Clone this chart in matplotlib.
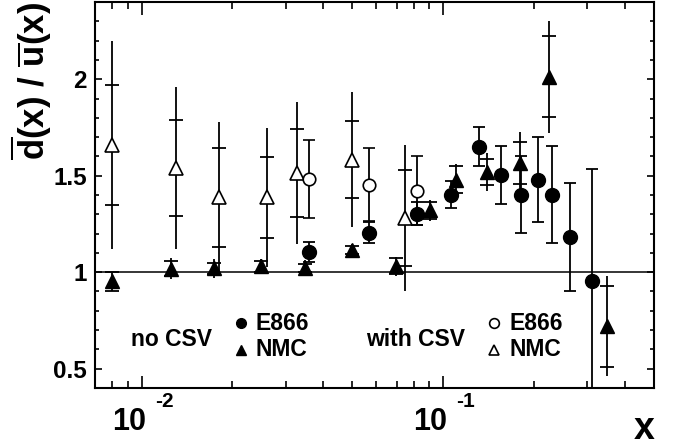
import numpy as np
import matplotlib
matplotlib.use("Agg")
import matplotlib.pyplot as plt
import matplotlib.transforms as mtransforms
from matplotlib.ticker import LogLocator, NullFormatter, MultipleLocator

plt.rcParams['font.family'] = ['Liberation Sans', 'DejaVu Sans']
plt.rcParams['font.weight'] = 'bold'
plt.rcParams['axes.labelweight'] = 'bold'
plt.rcParams['mathtext.fontset'] = 'custom'
plt.rcParams['mathtext.rm'] = 'Liberation Sans:bold'
plt.rcParams['mathtext.bf'] = 'Liberation Sans:bold'
plt.rcParams['mathtext.it'] = 'Liberation Sans:bold'

# === DATI ===
# E866, no CSV (cerchi pieni)
e866_x = [0.0359, 0.0568, 0.0820, 0.1058, 0.1312, 0.156, 0.1807, 0.2062, 0.230, 0.2638, 0.311]
e866_y = [1.105, 1.204, 1.302, 1.402, 1.651, 1.502, 1.402, 1.479, 1.402, 1.183, 0.953]
e866_err = [0.05, 0.055, 0.06, 0.07, 0.10, 0.15, 0.20, 0.22, 0.25, 0.28, 0.58]

# E866, with CSV (cerchi vuoti)
e866c_x = [0.0359, 0.0568, 0.0820]
e866c_y = [1.483, 1.453, 1.422]
e866c_err = [0.20, 0.19, 0.18]

# NMC, no CSV (triangoli pieni): errore statistico e totale
nmc_x = [0.0080, 0.01248, 0.01743, 0.02494, 0.03486, 0.0498, 0.0698,
         0.0904, 0.1101, 0.1402, 0.1794, 0.2242, 0.350]
nmc_y = [0.953, 1.018, 1.020, 1.030, 1.023, 1.114, 1.031,
         1.320, 1.479, 1.519, 1.566, 2.013, 0.720]
nmc_stat = [0.05, 0.04, 0.03, 0.03, 0.02, 0.02, 0.04, 0.045, 0.07, 0.065, 0.11, 0.21, 0.21]
nmc_tot = [0.05, 0.055, 0.05, 0.04, 0.04, 0.03, 0.05, 0.055, 0.08, 0.10, 0.16, 0.29, 0.26]

# NMC, with CSV (triangoli vuoti)
nmcc_x = [0.0080, 0.0130, 0.01811, 0.0261, 0.0327, 0.0498, 0.07468]
nmcc_y = [1.66, 1.54, 1.388, 1.388, 1.514, 1.583, 1.281]
nmcc_stat = [0.31, 0.25, 0.256, 0.21, 0.23, 0.20, 0.25]
nmcc_tot = [0.54, 0.42, 0.39, 0.36, 0.37, 0.35, 0.38]

x_ticks = [0.01, 0.1]
x_tick_exp = ['-2', '-1']
y_ticks = [0.5, 1, 1.5, 2]
y_tick_labels = ['0.5', '1', '1.5', '2']

# === FIGURA ===
fig = plt.figure(figsize=(6.77, 4.47), dpi=100)
ax = fig.add_axes([0.1403, 0.132, 0.8257, 0.8635])

lw = 1.3
ax.axhline(1.0, color='k', lw=1.1, zorder=1)

# NMC with CSV
ax.errorbar(nmcc_x, nmcc_y, yerr=nmcc_tot, fmt='none', ecolor='k', elinewidth=lw, capsize=0, zorder=2)
ax.plot(nmcc_x, np.array(nmcc_y) + np.array(nmcc_stat), '_', color='k', ms=10, mew=lw, zorder=2)
ax.plot(nmcc_x, np.array(nmcc_y) - np.array(nmcc_stat), '_', color='k', ms=10, mew=lw, zorder=2)
ax.plot(nmcc_x, nmcc_y, '^', ms=9.5, mfc='white', mec='k', mew=1.2, ls='none', zorder=3)

# NMC no CSV
ax.errorbar(nmc_x, nmc_y, yerr=nmc_tot, fmt='none', ecolor='k', elinewidth=lw, capsize=0, zorder=2)
ax.plot(nmc_x, np.array(nmc_y) + np.array(nmc_stat), '_', color='k', ms=10, mew=lw, zorder=2)
ax.plot(nmc_x, np.array(nmc_y) - np.array(nmc_stat), '_', color='k', ms=10, mew=lw, zorder=2)
ax.plot(nmc_x, nmc_y, '^', ms=9.5, color='k', ls='none', zorder=3)

# E866 with CSV
ax.errorbar(e866c_x, e866c_y, yerr=e866c_err, fmt='o', ms=9, mfc='white', mec='k', mew=1.2,
            ecolor='k', elinewidth=lw, capsize=4, capthick=lw, zorder=3)
# E866 no CSV
ax.errorbar(e866_x, e866_y, yerr=e866_err, fmt='o', ms=10, color='k',
            ecolor='k', elinewidth=lw, capsize=4, capthick=lw, zorder=3)

# === ASSI ===
ax.set_xscale('log')
ax.set_xlim(0.007, 0.5)
ax.set_ylim(0.4, 2.4)
ax.set_xticks(x_ticks, labels=['' for _ in x_ticks])
ax.xaxis.set_minor_locator(LogLocator(base=10, subs=np.arange(2, 10)))
ax.xaxis.set_minor_formatter(NullFormatter())
ax.set_yticks(y_ticks, labels=y_tick_labels)
ax.yaxis.set_minor_locator(MultipleLocator(0.1))

ax.tick_params(which='both', direction='in', top=True, right=True, width=1.2)
ax.tick_params(axis='x', which='major', length=9)
ax.tick_params(axis='x', which='minor', length=5)
ax.tick_params(axis='y', which='major', length=5, pad=6, labelsize=17.5)
ax.tick_params(axis='y', which='minor', length=3)
for s in ax.spines.values():
    s.set_linewidth(1.5)

# etichette asse x in stile ROOT: "10" con esponente staccato
xtrans = ax.get_xaxis_transform()
base_tr = mtransforms.offset_copy(xtrans, fig=fig, x=4, y=0, units='dots')
exp_tr = mtransforms.offset_copy(xtrans, fig=fig, x=13, y=0, units='dots')
for xt, ex in zip(x_ticks, x_tick_exp):
    ax.text(xt, -0.109, '10', transform=base_tr, fontsize=22, ha='right', va='baseline')
    ax.text(xt, -0.050, ex, transform=exp_tr, fontsize=15, ha='left', va='baseline')

ax.set_ylabel(r'$\overline{d}(x)\ /\ \overline{u}(x)$', fontsize=25, loc='top')
ax.yaxis.set_label_coords(-0.074, 1.0)
ax.set_xlabel('x', fontsize=27, ha='center', va='baseline', fontweight='bold')
ax.xaxis.set_label_coords(0.982, -0.132)

# === LEGENDA ===
fs = 16.5
ax.text(0.137, 0.109, 'no CSV', transform=ax.transAxes, fontsize=fs, ha='center', va='baseline')
ax.plot([0.262], [0.168], 'o', ms=7, color='k', transform=ax.transAxes)
ax.plot([0.262], [0.098], '^', ms=7, color='k', transform=ax.transAxes)
ax.text(0.288, 0.150, 'E866', transform=ax.transAxes, fontsize=fs, va='baseline')
ax.text(0.288, 0.082, 'NMC', transform=ax.transAxes, fontsize=fs, va='baseline')

ax.text(0.574, 0.109, 'with CSV', transform=ax.transAxes, fontsize=fs, ha='center', va='baseline')
ax.plot([0.714], [0.168], 'o', ms=7, mfc='white', mec='k', mew=1.2, transform=ax.transAxes)
ax.plot([0.714], [0.098], '^', ms=7, mfc='white', mec='k', mew=1.2, transform=ax.transAxes)
ax.text(0.742, 0.150, 'E866', transform=ax.transAxes, fontsize=fs, va='baseline')
ax.text(0.742, 0.082, 'NMC', transform=ax.transAxes, fontsize=fs, va='baseline')

fig.savefig('out.png', dpi=100)
